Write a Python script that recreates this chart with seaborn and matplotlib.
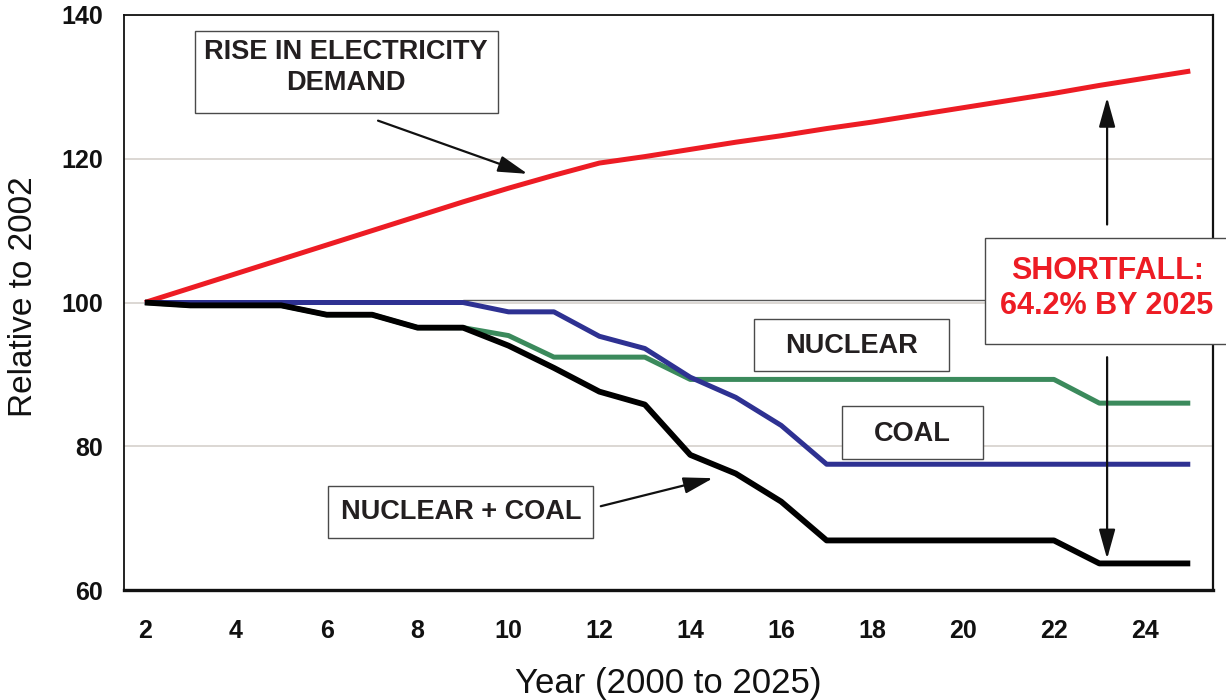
import matplotlib
matplotlib.use("Agg")
import matplotlib.pyplot as plt
from matplotlib.patches import Rectangle
import pandas as pd
import seaborn as sns

# Index values relative to 2002 (=100), years given as offset from 2000
years = list(range(2, 26))
demand = [100.0, 102.0, 104.0, 106.0, 108.0, 110.0, 112.0, 114.0, 115.9, 117.7,
          119.4, 120.3, 121.3, 122.3, 123.2, 124.2, 125.1, 126.1, 127.1, 128.1,
          129.1, 130.2, 131.2, 132.2]
nuclear = [100.0, 99.6, 99.6, 99.6, 98.3, 98.3, 96.5, 96.5, 95.4, 92.4,
           92.4, 92.4, 89.3, 89.3, 89.3, 89.3, 89.3, 89.3, 89.3, 89.3,
           89.3, 86.0, 86.0, 86.0]
coal = [100.0, 100.0, 100.0, 100.0, 100.0, 100.0, 100.0, 100.0, 98.7, 98.7,
        95.3, 93.6, 89.6, 86.8, 82.9, 77.5, 77.5, 77.5, 77.5, 77.5,
        77.5, 77.5, 77.5, 77.5]
nuclear_coal = [100.0, 99.6, 99.6, 99.6, 98.3, 98.3, 96.5, 96.5, 94.0, 90.9,
                87.6, 85.8, 78.8, 76.2, 72.3, 66.9, 66.9, 66.9, 66.9, 66.9,
                66.9, 63.7, 63.7, 63.7]

series_names = ["Nuclear", "Demand", "Coal", "Nuclear + Coal"]
series_values = [nuclear, demand, coal, nuclear_coal]
colors = {"Nuclear": "#3b8a5c", "Demand": "#ed1c24",
          "Coal": "#2e3192", "Nuclear + Coal": "#000000"}
widths = {"Nuclear": 3.6, "Demand": 3.6, "Coal": 3.6, "Nuclear + Coal": 4.2}

x_ticks = [2, 4, 6, 8, 10, 12, 14, 16, 18, 20, 22, 24]
y_ticks = [60, 80, 100, 120, 140]

df = pd.DataFrame({
    "year": years * len(series_names),
    "value": [v for vals in series_values for v in vals],
    "series": [n for n in series_names for _ in years],
})

sns.set_style("white")
plt.rcParams["font.family"] = ["Liberation Sans", "DejaVu Sans"]

fig = plt.figure(figsize=(12.26, 7.0), dpi=100)
ax = fig.add_axes([0.1011, 0.1571, 0.8883, 0.8215])

ax.set_xlim(1.54, 25.5)
ax.set_ylim(60, 140)

# light horizontal gridlines
ax.set_yticks(y_ticks)
ax.set_xticks(x_ticks)
ax.yaxis.grid(True, color="#d9d4d0", linewidth=1.3, zorder=0)
ax.xaxis.grid(False)
ax.set_axisbelow(True)

# thin reference line along the 2002 level
ax.plot([9, 25.5], [100.28, 100.28], color="#555555", linewidth=1.0, zorder=1.5,
        clip_on=False)

sns.lineplot(data=df, x="year", y="value", hue="series", hue_order=series_names,
             palette=colors, legend=False, ax=ax, sort=False, zorder=3)
for line, name in zip(ax.lines[1:], series_names):
    line.set_linewidth(widths[name])
    line.set_solid_capstyle("butt")
    line.set_solid_joinstyle("round")

# frame
for side, lw in {"left": 1.3, "top": 1.3, "right": 1.6, "bottom": 2.4}.items():
    ax.spines[side].set_visible(True)
    ax.spines[side].set_color("#111111")
    ax.spines[side].set_linewidth(lw)

ax.tick_params(axis="both", length=0)
ax.tick_params(axis="y", pad=15)
ax.tick_params(axis="x", pad=21)
for lab in ax.get_xticklabels() + ax.get_yticklabels():
    lab.set_fontweight("bold")
    lab.set_fontsize(18)
    lab.set_color("#111111")

ax.set_xlabel("Year (2000 to 2025)", fontsize=25, color="#111111", va="center")
ax.xaxis.set_label_coords(0.5, -0.1617)
ax.set_ylabel("Relative to 2002", fontsize=24, color="#111111", va="center")
ax.yaxis.set_label_coords(-0.0918, 0.5096)

text_color = "#231f20"


def label_box(x0, x1, y0, y1, lines, ys, xc, color=text_color, size=19.5):
    ax.add_patch(Rectangle((x0, y0), x1 - x0, y1 - y0, facecolor="white",
                           edgecolor="#4a4a4a", linewidth=1.0, zorder=6,
                           clip_on=False))
    for txt, yy in zip(lines, ys):
        ax.text(xc, yy, txt, ha="center", va="center", fontsize=size,
                fontweight="bold", color=color, zorder=7, clip_on=False)


label_box(3.10, 9.77, 126.4, 137.75, ["RISE IN ELECTRICITY", "DEMAND"],
          [134.8, 130.5], 6.43)
label_box(15.40, 19.70, 90.44, 97.73, ["NUCLEAR"], [94.0], 17.55)
label_box(17.33, 20.43, 78.25, 85.57, ["COAL"], [81.77], 18.88)
label_box(6.03, 11.87, 67.27, 74.54, ["NUCLEAR + COAL"], [70.83], 8.95)
label_box(20.48, 25.95, 94.16, 109.0, ["SHORTFALL:", "64.2% BY 2025"],
          [104.35, 99.58], 23.17, color="#ed1c24", size=22)

arrow_style = dict(arrowstyle="-|>,head_length=1.8,head_width=0.5",
                   mutation_scale=10, color="#111111", linewidth=1.6,
                   shrinkA=0, shrinkB=0)
ax.annotate("", xy=(10.42, 117.9), xytext=(7.13, 125.3),
            arrowprops=arrow_style, zorder=8)
ax.annotate("", xy=(14.5, 75.56), xytext=(12.03, 71.66),
            arrowprops=arrow_style, zorder=8)
ax.annotate("", xy=(23.17, 128.52), xytext=(23.17, 110.85),
            arrowprops=arrow_style, zorder=8)
ax.annotate("", xy=(23.17, 64.34), xytext=(23.17, 92.39),
            arrowprops=arrow_style, zorder=8)

fig.savefig("out.png", dpi=100, facecolor="white")
